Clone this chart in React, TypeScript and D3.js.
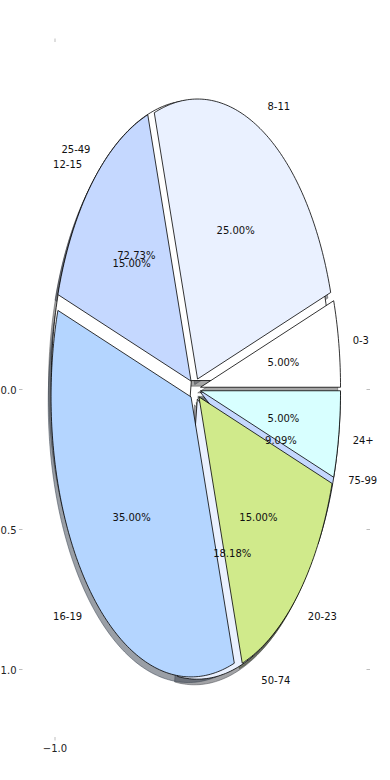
import React from "react";
import * as d3 from "d3";

const labels1 = ["0-3", "8-11", "12-15", "16-19", "20-23", "24+"];
const values1 = [5, 25, 15, 35, 15, 5];
const labels2 = ["25-49", "50-74", "75-99"];
const values2 = [8, 2, 1];
const colors = ["#ffffff", "#eaf1ff", "#c5d8ff", "#b4d5ff", "#d0ea8b", "#d8ffff"];
const yTicks = [0, -0.5, -1];
const yTickLabels = ["0.0", "0.5", "1.0"];
const xTicks = [-1];
const xTickLabels = ["\u22121.0"];

const EXPLODE = 0.04;
const SHADOW = 0.02;
const LABEL_D = 1.1;
const PCT_D = 0.6;
const TEXT_DY = 1.5;

const x = d3.scaleLinear().domain([-1, 1]).range([55, 335]);
const y = d3.scaleLinear().domain([-1, 1]).range([669, 109]);

function wedgePath(a0: number, a1: number, dx: number, dy: number) {
  const n = Math.max(2, Math.ceil(((a1 - a0) * 180) / Math.PI));
  const pts: [number, number][] = [[dx, dy]];
  for (let i = 0; i <= n; i++) {
    const a = a0 + ((a1 - a0) * i) / n;
    pts.push([dx + Math.cos(a), dy + Math.sin(a)]);
  }
  return (
    d3
      .line<[number, number]>()
      .x((p) => x(p[0]))
      .y((p) => y(p[1]))(pts) + "Z"
  );
}

function shade(c: string) {
  const rgb = d3.rgb(c);
  return d3.rgb(rgb.r * 0.3, rgb.g * 0.3, rgb.b * 0.3).formatHex();
}

function buildPie(values: number[], labels: string[]) {
  const total = d3.sum(values);
  const arcs = d3
    .pie<number>()
    .sort(null)
    .startAngle(0)
    .endAngle(Math.PI * 2)(values);
  return arcs.map((a, i) => {
    const mid = (a.startAngle + a.endAngle) / 2;
    const dx = EXPLODE * Math.cos(mid);
    const dy = EXPLODE * Math.sin(mid);
    return {
      label: labels[i],
      pct: ((values[i] / total) * 100).toFixed(2) + "%",
      color: colors[i % colors.length],
      path: wedgePath(a.startAngle, a.endAngle, dx, dy),
      shadow: wedgePath(a.startAngle, a.endAngle, dx - SHADOW, dy - SHADOW),
      lx: dx + LABEL_D * Math.cos(mid),
      ly: dy + LABEL_D * Math.sin(mid),
      px: dx + PCT_D * Math.cos(mid),
      py: dy + PCT_D * Math.sin(mid),
    };
  });
}

export default function App() {
  const pie2 = buildPie(values2, labels2);
  const pie1 = buildPie(values1, labels1);
  const both = [...pie2, ...pie1];
  const font = "'DejaVu Sans', sans-serif";
  return (
    <svg
      width={390}
      height={780}
      style={{ position: "absolute", left: 0, top: 0, background: "#fff" }}
      fontFamily={font}
    >
      {/* ticks */}
      {yTicks.map((t, i) => (
        <g key={"yt" + i}>
          <line x1={19} x2={22.5} y1={y(t) + 0.5} y2={y(t) + 0.5} stroke="#bdbdbd" strokeWidth={1} />
          <line x1={366.5} x2={370} y1={y(t) + 0.5} y2={y(t) + 0.5} stroke="#bdbdbd" strokeWidth={1} />
          <text x={16.5} y={y(t) + TEXT_DY} textAnchor="end" dominantBaseline="central" fontSize={10} fill="#222">
            {yTickLabels[i]}
          </text>
        </g>
      ))}
      {xTicks.map((t, i) => (
        <g key={"xt" + i}>
          <line x1={x(t)} x2={x(t)} y1={38.5} y2={42} stroke="#bdbdbd" strokeWidth={1} />
          <line x1={x(t)} x2={x(t)} y1={737} y2={740.5} stroke="#bdbdbd" strokeWidth={1} />
          <text x={x(t)} y={748.5} textAnchor="middle" dominantBaseline="central" fontSize={10} fill="#222">
            {xTickLabels[i]}
          </text>
        </g>
      ))}
      {/* shadows */}
      {both.map((w, i) => (
        <path
          key={"s" + i}
          d={w.shadow}
          fill={shade(w.color)}
          fillOpacity={0.5}
          stroke={shade(w.color)}
          strokeOpacity={0.5}
          strokeWidth={1}
        />
      ))}
      {/* wedges */}
      {both.map((w, i) => (
        <path key={"w" + i} d={w.path} fill={w.color} stroke="#000" strokeWidth={0.8} strokeLinejoin="round" />
      ))}
      {/* texts */}
      {both.map((w, i) => (
        <g key={"t" + i} fontSize={10} fill="#111">
          <text
            x={x(w.lx)}
            y={y(w.ly) + TEXT_DY}
            textAnchor={w.lx > 0 ? "start" : "end"}
            dominantBaseline="central"
          >
            {w.label}
          </text>
          <text x={x(w.px)} y={y(w.py) + TEXT_DY} textAnchor="middle" dominantBaseline="central">
            {w.pct}
          </text>
        </g>
      ))}
    </svg>
  );
}
